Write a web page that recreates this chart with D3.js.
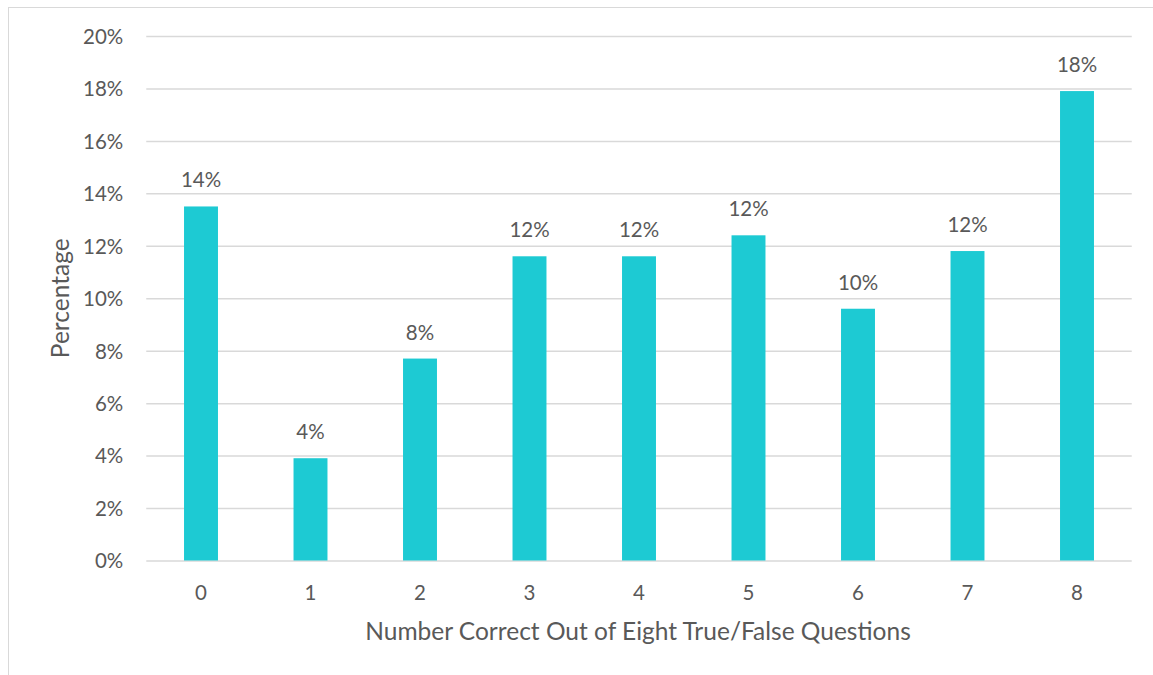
<!DOCTYPE html>
<html><head><meta charset="utf-8">
<script src="https://cdn.jsdelivr.net/npm/d3@7"></script>
<style>body{margin:0;background:#fff}svg text{font-family:Lato,"Open Sans",sans-serif;fill:#595959}</style>
</head><body>
<svg id="c" width="1153" height="675"></svg>
<script>
const categories = ["0","1","2","3","4","5","6","7","8"];
const values = [13.5, 3.9, 7.7, 11.6, 11.6, 12.4, 9.6, 11.8, 17.9];
const valueLabels = ["14%","4%","8%","12%","12%","12%","10%","12%","18%"];
const yTicks = [0,2,4,6,8,10,12,14,16,18,20];
const xTitle = "Number Correct Out of Eight True/False Questions";
const yTitle = "Percentage";

const svg = d3.select("#c");
const m = {left:146.25, right:1131.75, top:36, bottom:560.5};
svg.append("rect").attr("x",8.5).attr("y",7.5).attr("width",1160).attr("height",700)
  .attr("fill","none").attr("stroke","#d9d9d9").attr("stroke-width",1);

const x = d3.scaleBand().domain(categories).range([m.left,m.right]).paddingInner(0.69).paddingOuter(0.345);
const y = d3.scaleLinear().domain([0,20]).range([m.bottom,m.top]);

const gy = svg.append("g").attr("transform",`translate(${m.left},0)`)
  .call(d3.axisLeft(y).tickValues(yTicks).tickFormat(d=>d+"%").tickSize(-(m.right-m.left)).tickPadding(23));
gy.select(".domain").remove();
gy.selectAll(".tick line").attr("stroke","#d9d9d9").attr("stroke-width",1.5);
gy.selectAll(".tick text").attr("font-size",20.5).attr("dy","0.36em").style("fill","#595959");

svg.selectAll("rect.bar").data(values).join("rect").attr("class","bar")
  .attr("x",(d,i)=>x(categories[i])).attr("width",x.bandwidth())
  .attr("y",d=>y(d)).attr("height",d=>y(0)-y(d)).attr("fill","#1DCAD3");

svg.selectAll("text.vl").data(values).join("text").attr("class","vl")
  .attr("x",(d,i)=>x(categories[i])+x.bandwidth()/2).attr("y",d=>y(d)-19)
  .attr("text-anchor","middle").attr("font-size",20.5).text((d,i)=>valueLabels[i]);

const gx = svg.append("g").attr("transform",`translate(0,${m.bottom})`)
  .call(d3.axisBottom(x).tickSize(0).tickPadding(0));
gx.select(".domain").remove();
gx.selectAll(".tick text").attr("font-size",20.5).attr("dy",0).attr("y",39).style("fill","#595959");

svg.append("text").attr("x",638).attr("y",640).attr("text-anchor","middle")
  .attr("font-size",24.5).text(xTitle);
svg.append("text").attr("transform",`translate(69,${(m.top+m.bottom)/2}) rotate(-90)`).attr("text-anchor","middle")
  .attr("font-size",24.5).text(yTitle);
</script>
</body></html>
